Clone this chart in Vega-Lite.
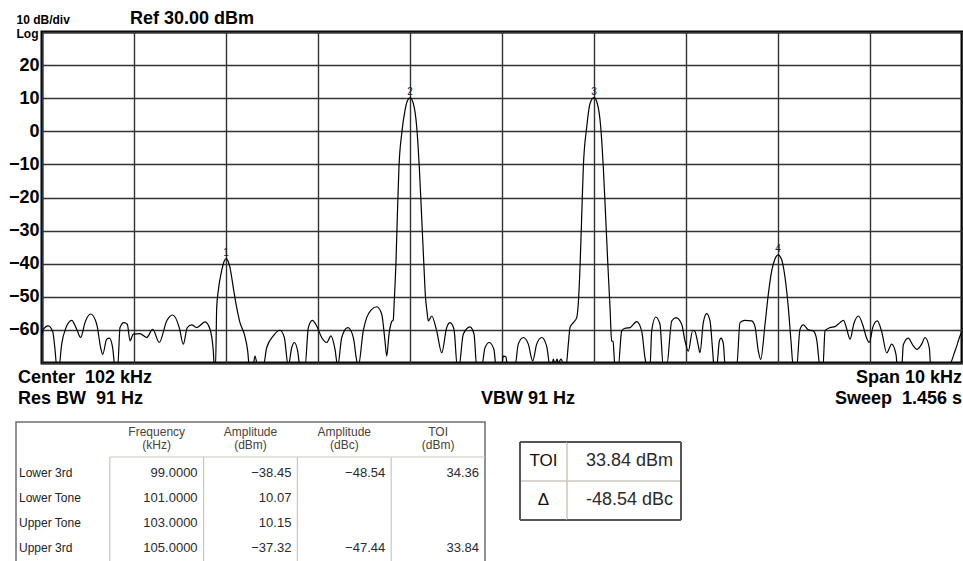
{
  "$schema": "https://vega.github.io/schema/vega-lite/v6.json",
  "autosize": {"type": "none"},
  "padding": {"left": 16, "top": 32, "right": 947, "bottom": 529},
  "background": "white",
  "config": {"font": "Liberation Sans", "view": {"stroke": null}},
  "datasets": {
    "trace": [
      {"freq": 97.000, "dBm": -61.5}, {"freq": 97.011, "dBm": -60.0}, {"freq": 97.068, "dBm": -58.8}, {"freq": 97.116, "dBm": -60.5},
      {"freq": 97.141, "dBm": -65.8}, {"freq": 97.160, "dBm": -71}, {"freq": 97.185, "dBm": -71}, {"freq": 97.214, "dBm": -64.3},
      {"freq": 97.261, "dBm": -59.3}, {"freq": 97.323, "dBm": -57.1}, {"freq": 97.377, "dBm": -59.8}, {"freq": 97.421, "dBm": -62.3},
      {"freq": 97.467, "dBm": -57.8}, {"freq": 97.529, "dBm": -55.2}, {"freq": 97.595, "dBm": -58.3}, {"freq": 97.638, "dBm": -65.4},
      {"freq": 97.660, "dBm": -67.4}, {"freq": 97.703, "dBm": -62.8}, {"freq": 97.732, "dBm": -62.5}, {"freq": 97.768, "dBm": -65.4},
      {"freq": 97.793, "dBm": -71}, {"freq": 97.823, "dBm": -71}, {"freq": 97.848, "dBm": -59.3}, {"freq": 97.891, "dBm": -57.8},
      {"freq": 97.927, "dBm": -58.3}, {"freq": 97.957, "dBm": -63.3}, {"freq": 97.992, "dBm": -61.3}, {"freq": 98.065, "dBm": -61.1},
      {"freq": 98.138, "dBm": -62.3}, {"freq": 98.203, "dBm": -59.8}, {"freq": 98.275, "dBm": -63.8}, {"freq": 98.355, "dBm": -57.3},
      {"freq": 98.421, "dBm": -55.5}, {"freq": 98.492, "dBm": -59.3}, {"freq": 98.536, "dBm": -64.3}, {"freq": 98.579, "dBm": -59.3},
      {"freq": 98.627, "dBm": -58.5}, {"freq": 98.682, "dBm": -59.3}, {"freq": 98.772, "dBm": -57.6}, {"freq": 98.826, "dBm": -59.8},
      {"freq": 98.862, "dBm": -66.4}, {"freq": 98.873, "dBm": -71}, {"freq": 98.886, "dBm": -71}, {"freq": 98.899, "dBm": -53.2},
      {"freq": 98.916, "dBm": -48.2}, {"freq": 98.953, "dBm": -42.1}, {"freq": 98.978, "dBm": -39.4}, {"freq": 99.000, "dBm": -38.45},
      {"freq": 99.022, "dBm": -39.2}, {"freq": 99.043, "dBm": -41.1}, {"freq": 99.079, "dBm": -47.2}, {"freq": 99.116, "dBm": -53.2},
      {"freq": 99.152, "dBm": -57.8}, {"freq": 99.199, "dBm": -61.3}, {"freq": 99.236, "dBm": -66.4}, {"freq": 99.253, "dBm": -71},
      {"freq": 99.293, "dBm": -71}, {"freq": 99.315, "dBm": -67.9}, {"freq": 99.345, "dBm": -71}, {"freq": 99.405, "dBm": -71},
      {"freq": 99.442, "dBm": -65.4}, {"freq": 99.514, "dBm": -61.8}, {"freq": 99.587, "dBm": -60.1}, {"freq": 99.634, "dBm": -62.3},
      {"freq": 99.677, "dBm": -71}, {"freq": 99.714, "dBm": -65.4}, {"freq": 99.742, "dBm": -63.8}, {"freq": 99.779, "dBm": -66.4},
      {"freq": 99.804, "dBm": -71}, {"freq": 99.859, "dBm": -71}, {"freq": 99.895, "dBm": -59.3}, {"freq": 99.938, "dBm": -57.1},
      {"freq": 99.986, "dBm": -58.8}, {"freq": 100.040, "dBm": -62.3}, {"freq": 100.095, "dBm": -63.8}, {"freq": 100.141, "dBm": -61.8},
      {"freq": 100.185, "dBm": -65.9}, {"freq": 100.214, "dBm": -71}, {"freq": 100.258, "dBm": -62.3}, {"freq": 100.323, "dBm": -59.3},
      {"freq": 100.348, "dBm": -59.8}, {"freq": 100.391, "dBm": -63.3}, {"freq": 100.413, "dBm": -68}, {"freq": 100.438, "dBm": -71},
      {"freq": 100.492, "dBm": -60.3}, {"freq": 100.529, "dBm": -56.3}, {"freq": 100.576, "dBm": -54}, {"freq": 100.638, "dBm": -53},
      {"freq": 100.692, "dBm": -55.2}, {"freq": 100.728, "dBm": -63.3}, {"freq": 100.747, "dBm": -67.9}, {"freq": 100.772, "dBm": -61.3},
      {"freq": 100.801, "dBm": -57.5}, {"freq": 100.818, "dBm": -57}, {"freq": 100.829, "dBm": -51.2}, {"freq": 100.848, "dBm": -39.1},
      {"freq": 100.862, "dBm": -26}, {"freq": 100.880, "dBm": -10.8}, {"freq": 100.910, "dBm": -0.7}, {"freq": 100.946, "dBm": 6.4},
      {"freq": 100.973, "dBm": 9.3}, {"freq": 101.000, "dBm": 10.07}, {"freq": 101.036, "dBm": 8.4}, {"freq": 101.073, "dBm": 1.3},
      {"freq": 101.101, "dBm": -10.8}, {"freq": 101.127, "dBm": -26}, {"freq": 101.152, "dBm": -41.1}, {"freq": 101.168, "dBm": -50},
      {"freq": 101.185, "dBm": -54.5}, {"freq": 101.199, "dBm": -57.3}, {"freq": 101.236, "dBm": -55.8}, {"freq": 101.290, "dBm": -60.3},
      {"freq": 101.345, "dBm": -66.9}, {"freq": 101.399, "dBm": -59.3}, {"freq": 101.435, "dBm": -57.8}, {"freq": 101.478, "dBm": -59.8},
      {"freq": 101.514, "dBm": -71}, {"freq": 101.533, "dBm": -71}, {"freq": 101.579, "dBm": -61.3}, {"freq": 101.652, "dBm": -59.1},
      {"freq": 101.696, "dBm": -61.3}, {"freq": 101.725, "dBm": -71}, {"freq": 101.779, "dBm": -71}, {"freq": 101.815, "dBm": -65.4},
      {"freq": 101.862, "dBm": -63.8}, {"freq": 101.913, "dBm": -66}, {"freq": 101.935, "dBm": -71}, {"freq": 101.997, "dBm": -71},
      {"freq": 102.014, "dBm": -67.9}, {"freq": 102.043, "dBm": -68.2}, {"freq": 102.058, "dBm": -71}, {"freq": 102.141, "dBm": -71},
      {"freq": 102.177, "dBm": -64.3}, {"freq": 102.232, "dBm": -62.3}, {"freq": 102.286, "dBm": -64.3}, {"freq": 102.334, "dBm": -69.4},
      {"freq": 102.377, "dBm": -64.3}, {"freq": 102.432, "dBm": -62.3}, {"freq": 102.486, "dBm": -65}, {"freq": 102.522, "dBm": -71},
      {"freq": 102.543, "dBm": -71}, {"freq": 102.558, "dBm": -68.8}, {"freq": 102.576, "dBm": -70.5}, {"freq": 102.598, "dBm": -68.8},
      {"freq": 102.612, "dBm": -70}, {"freq": 102.641, "dBm": -68.8}, {"freq": 102.677, "dBm": -71}, {"freq": 102.696, "dBm": -71},
      {"freq": 102.721, "dBm": -64.3}, {"freq": 102.739, "dBm": -59.3}, {"freq": 102.775, "dBm": -57.8}, {"freq": 102.812, "dBm": -56.3},
      {"freq": 102.829, "dBm": -52.2}, {"freq": 102.848, "dBm": -41.1}, {"freq": 102.866, "dBm": -26}, {"freq": 102.884, "dBm": -10.8},
      {"freq": 102.921, "dBm": 1.3}, {"freq": 102.957, "dBm": 8.4}, {"freq": 103.000, "dBm": 10.15}, {"freq": 103.036, "dBm": 8.4},
      {"freq": 103.073, "dBm": 1.3}, {"freq": 103.101, "dBm": -10.8}, {"freq": 103.127, "dBm": -26}, {"freq": 103.152, "dBm": -41.1},
      {"freq": 103.174, "dBm": -53.2}, {"freq": 103.192, "dBm": -63.3}, {"freq": 103.207, "dBm": -63.5}, {"freq": 103.228, "dBm": -71},
      {"freq": 103.264, "dBm": -71}, {"freq": 103.301, "dBm": -60.3}, {"freq": 103.337, "dBm": -59.5}, {"freq": 103.391, "dBm": -59.3},
      {"freq": 103.464, "dBm": -57.5}, {"freq": 103.518, "dBm": -60.3}, {"freq": 103.554, "dBm": -68.4}, {"freq": 103.573, "dBm": -71},
      {"freq": 103.609, "dBm": -71}, {"freq": 103.627, "dBm": -60.3}, {"freq": 103.671, "dBm": -56.1}, {"freq": 103.717, "dBm": -58.3},
      {"freq": 103.753, "dBm": -71}, {"freq": 103.790, "dBm": -71}, {"freq": 103.845, "dBm": -57.3}, {"freq": 103.891, "dBm": -56.3},
      {"freq": 103.953, "dBm": -58.3}, {"freq": 103.989, "dBm": -63.3}, {"freq": 104.025, "dBm": -66.4}, {"freq": 104.073, "dBm": -60.1},
      {"freq": 104.098, "dBm": -60.5}, {"freq": 104.134, "dBm": -64.8}, {"freq": 104.152, "dBm": -66.9}, {"freq": 104.188, "dBm": -57.8},
      {"freq": 104.225, "dBm": -55.1}, {"freq": 104.261, "dBm": -57.3}, {"freq": 104.290, "dBm": -66.4}, {"freq": 104.304, "dBm": -71},
      {"freq": 104.334, "dBm": -71}, {"freq": 104.362, "dBm": -63.5}, {"freq": 104.380, "dBm": -62.5}, {"freq": 104.405, "dBm": -64},
      {"freq": 104.427, "dBm": -71}, {"freq": 104.551, "dBm": -71}, {"freq": 104.587, "dBm": -57.8}, {"freq": 104.641, "dBm": -57.1},
      {"freq": 104.714, "dBm": -57.3}, {"freq": 104.750, "dBm": -59}, {"freq": 104.786, "dBm": -66.4}, {"freq": 104.812, "dBm": -68.9},
      {"freq": 104.859, "dBm": -58.3}, {"freq": 104.895, "dBm": -49.2}, {"freq": 104.932, "dBm": -42.1}, {"freq": 104.967, "dBm": -38.6},
      {"freq": 105.000, "dBm": -37.32}, {"freq": 105.040, "dBm": -38.8}, {"freq": 105.076, "dBm": -44.1}, {"freq": 105.112, "dBm": -53.2},
      {"freq": 105.141, "dBm": -63.3}, {"freq": 105.166, "dBm": -71}, {"freq": 105.203, "dBm": -71}, {"freq": 105.239, "dBm": -59.8},
      {"freq": 105.275, "dBm": -58.5}, {"freq": 105.329, "dBm": -60}, {"freq": 105.384, "dBm": -60.3}, {"freq": 105.421, "dBm": -63},
      {"freq": 105.457, "dBm": -71}, {"freq": 105.489, "dBm": -71}, {"freq": 105.511, "dBm": -60.3}, {"freq": 105.565, "dBm": -59.3},
      {"freq": 105.620, "dBm": -59}, {"freq": 105.674, "dBm": -57.8}, {"freq": 105.712, "dBm": -57.1}, {"freq": 105.750, "dBm": -60},
      {"freq": 105.783, "dBm": -62.8}, {"freq": 105.826, "dBm": -58}, {"freq": 105.873, "dBm": -55.8}, {"freq": 105.927, "dBm": -59},
      {"freq": 105.957, "dBm": -62}, {"freq": 105.992, "dBm": -63.8}, {"freq": 106.033, "dBm": -59}, {"freq": 106.079, "dBm": -57.3},
      {"freq": 106.127, "dBm": -60.5}, {"freq": 106.182, "dBm": -66.9}, {"freq": 106.236, "dBm": -64.3}, {"freq": 106.283, "dBm": -67.5},
      {"freq": 106.297, "dBm": -71}, {"freq": 106.345, "dBm": -71}, {"freq": 106.362, "dBm": -64.5}, {"freq": 106.416, "dBm": -62.5},
      {"freq": 106.464, "dBm": -64.5}, {"freq": 106.508, "dBm": -65.9}, {"freq": 106.562, "dBm": -64.3}, {"freq": 106.598, "dBm": -62.3},
      {"freq": 106.645, "dBm": -65.5}, {"freq": 106.660, "dBm": -71}, {"freq": 106.851, "dBm": -71}, {"freq": 106.924, "dBm": -66.4},
      {"freq": 106.986, "dBm": -61.3}, {"freq": 107.000, "dBm": -60.5}
    ],
    "markers": [
      {"marker": "1", "freq": 99, "dBm": -38.45},
      {"marker": "2", "freq": 101, "dBm": 10.07},
      {"marker": "3", "freq": 103, "dBm": 10.15},
      {"marker": "4", "freq": 105, "dBm": -37.32}
    ],
    "info": [
      {"freq": 97, "text": "Center\u00a0 102 kHz\nRes BW\u00a0 91 Hz"},
      {"freq": 102, "text": "VBW 91 Hz"},
      {"freq": 107, "text": "Span 10 kHz\nSweep\u00a0 1.456 s"}
    ],
    "toiHeaders": [
      {"column": "freq", "header": "Frequency\n(kHz)"},
      {"column": "ampdBm", "header": "Amplitude\n(dBm)"},
      {"column": "ampdBc", "header": "Amplitude\n(dBc)"},
      {"column": "toi", "header": "TOI\n(dBm)"}
    ],
    "toiTable": [
      {"row": "Lower 3rd", "column": "freq", "value": 99.0},
      {"row": "Lower 3rd", "column": "ampdBm", "value": -38.45},
      {"row": "Lower 3rd", "column": "ampdBc", "value": -48.54},
      {"row": "Lower 3rd", "column": "toi", "value": 34.36},
      {"row": "Lower Tone", "column": "freq", "value": 101.0},
      {"row": "Lower Tone", "column": "ampdBm", "value": 10.07},
      {"row": "Upper Tone", "column": "freq", "value": 103.0},
      {"row": "Upper Tone", "column": "ampdBm", "value": 10.15},
      {"row": "Upper 3rd", "column": "freq", "value": 105.0},
      {"row": "Upper 3rd", "column": "ampdBm", "value": -37.32},
      {"row": "Upper 3rd", "column": "ampdBc", "value": -47.44},
      {"row": "Upper 3rd", "column": "toi", "value": 33.84}
    ],
    "summary": [
      {"key": "TOI", "value": "33.84 dBm"},
      {"key": "Δ", "value": "-48.54 dBc"}
    ]
  },
  "spacing": 11,
  "vconcat": [
    {
      "bounds": "flush",
      "spacing": 0,
      "hconcat": [
        {"width": 26, "height": 331, "data": {"values": [{}]}, "mark": {"type": "text", "text": ""}, "encoding": {}},
        {
          "width": 920,
          "height": 331,
          "view": {"stroke": "#000", "strokeWidth": 3},
          "title": {"text": "Ref 30.00 dBm", "anchor": "start", "frame": "group", "dx": 88, "dy": 20, "offset": 5, "fontSize": 18, "fontWeight": "bold", "color": "#000"},
          "layer": [
            {
              "data": {"name": "trace"},
              "mark": {"type": "line", "interpolate": "monotone", "clip": true, "color": "#000", "strokeWidth": 1.2},
              "encoding": {
                "x": {"field": "freq", "type": "quantitative",
                  "scale": {"domain": [97, 107], "nice": false, "zero": false},
                  "axis": {"values": [97, 98, 99, 100, 101, 102, 103, 104, 105, 106, 107], "grid": true, "gridColor": "#333", "gridWidth": 1.4, "gridOpacity": 1, "labels": false, "ticks": false, "domain": false, "title": null}},
                "y": {"field": "dBm", "type": "quantitative",
                  "scale": {"domain": [-70, 30], "nice": false, "zero": false},
                  "axis": {"values": [-70, -60, -50, -40, -30, -20, -10, 0, 10, 20, 30], "tickCount": 11, "grid": true, "gridColor": "#333", "gridWidth": 1.4, "gridOpacity": 1,
                    "ticks": false, "tickSize": 0, "domain": false, "labelPadding": 3, "labelFontSize": 18, "labelFontWeight": "bold", "labelColor": "#000",
                    "labelOverlap": false, "labelBound": false,
                    "labelExpr": "datum.value > 20 || datum.value < -60 ? '' : datum.label",
                    "title": ["10 dB/div", "Log"], "titleAngle": 0, "titleAlign": "left", "titleBaseline": "top", "titleX": -26, "titleY": -18,
                    "titleFontSize": 12, "titleFontWeight": "bold", "titleLineHeight": 14, "titleColor": "#000"}}
              }
            },
            {
              "data": {"name": "markers"},
              "mark": {"type": "text", "baseline": "bottom", "dy": -1, "fontSize": 10, "color": "#222"},
              "encoding": {
                "x": {"field": "freq", "type": "quantitative"},
                "y": {"field": "dBm", "type": "quantitative"},
                "text": {"field": "marker"}
              }
            },
            {
              "data": {"name": "info"},
              "transform": [{"filter": "datum.freq == 97"}],
              "mark": {"type": "text", "align": "left", "baseline": "top", "lineBreak": "\n", "lineHeight": 21, "fontSize": 18, "fontWeight": "bold", "color": "#000", "dx": -24, "dy": 6},
              "encoding": {
                "x": {"field": "freq", "type": "quantitative"},
                "y": {"datum": -70, "type": "quantitative"},
                "text": {"field": "text"}
              }
            },
            {
              "data": {"name": "info"},
              "transform": [{"filter": "datum.freq == 102"}],
              "mark": {"type": "text", "align": "center", "baseline": "top", "fontSize": 18, "fontWeight": "bold", "color": "#000", "dx": 26, "dy": 27},
              "encoding": {
                "x": {"field": "freq", "type": "quantitative"},
                "y": {"datum": -70, "type": "quantitative"},
                "text": {"field": "text"}
              }
            },
            {
              "data": {"name": "info"},
              "transform": [{"filter": "datum.freq == 107"}],
              "mark": {"type": "text", "align": "right", "baseline": "top", "lineBreak": "\n", "lineHeight": 21, "fontSize": 18, "fontWeight": "bold", "color": "#000", "dx": 0, "dy": 6},
              "encoding": {
                "x": {"field": "freq", "type": "quantitative"},
                "y": {"datum": -70, "type": "quantitative"},
                "text": {"field": "text"}
              }
            }
          ]
        }
      ]
    },
    {
      "spacing": 32,
      "hconcat": [
        {
          "width": 469,
          "height": 145,
          "view": {"stroke": "#6e6e6e", "strokeWidth": 1.5},
          "encoding": {
            "x": {"field": "column", "type": "nominal", "axis": null,
              "scale": {"type": "band", "domain": ["name", "freq", "ampdBm", "ampdBc", "toi"], "paddingInner": 0, "paddingOuter": 0}},
            "y": {"field": "row", "type": "nominal", "axis": null,
              "scale": {"type": "band", "domain": ["header", "Lower 3rd", "Lower Tone", "Upper Tone", "Upper 3rd"], "paddingInner": 0, "paddingOuter": 0.4}}
          },
          "layer": [
            {
              "data": {"name": "toiHeaders"},
              "mark": {"type": "rule", "color": "#cbc7bb", "strokeWidth": 1.2},
              "encoding": {
                "x": {"field": "column", "type": "nominal", "bandPosition": 0},
                "y": {"datum": "Lower 3rd", "type": "nominal", "bandPosition": 0},
                "y2": {"value": "height"}
              }
            },
            {
              "data": {"values": [{}]},
              "mark": {"type": "rule", "color": "#cbc7bb", "strokeWidth": 1.2},
              "encoding": {
                "x": {"datum": "freq", "type": "nominal", "bandPosition": 0},
                "x2": {"value": "width"},
                "y": {"datum": "Lower 3rd", "type": "nominal", "bandPosition": 0}
              }
            },
            {
              "data": {"name": "toiHeaders"},
              "mark": {"type": "text", "align": "center", "baseline": "middle", "lineBreak": "\n", "lineHeight": 13, "fontSize": 12, "color": "#4a4238", "dy": -13},
              "encoding": {
                "x": {"field": "column", "type": "nominal", "bandPosition": 0.5},
                "y": {"datum": "header", "type": "nominal", "bandPosition": 0.5},
                "text": {"field": "header"}
              }
            },
            {
              "data": {"name": "toiTable"},
              "transform": [{"filter": "datum.column == 'freq'"}],
              "mark": {"type": "text", "align": "left", "baseline": "middle", "fontSize": 12, "color": "#222", "dx": 3, "dy": 3},
              "encoding": {
                "x": {"datum": "name", "type": "nominal", "bandPosition": 0},
                "y": {"field": "row", "type": "nominal", "bandPosition": 0.5},
                "text": {"field": "row"}
              }
            },
            {
              "data": {"name": "toiTable"},
              "transform": [{"filter": "datum.column == 'freq'"}],
              "mark": {"type": "text", "align": "right", "baseline": "middle", "fontSize": 13, "color": "#2a2a2a", "dx": -6, "dy": 3},
              "encoding": {
                "x": {"field": "column", "type": "nominal", "bandPosition": 1},
                "y": {"field": "row", "type": "nominal", "bandPosition": 0.5},
                "text": {"field": "value", "type": "quantitative", "format": ".4f"}
              }
            },
            {
              "data": {"name": "toiTable"},
              "transform": [{"filter": "datum.column != 'freq'"}],
              "mark": {"type": "text", "align": "right", "baseline": "middle", "fontSize": 13, "color": "#2a2a2a", "dx": -6, "dy": 3},
              "encoding": {
                "x": {"field": "column", "type": "nominal", "bandPosition": 1},
                "y": {"field": "row", "type": "nominal", "bandPosition": 0.5},
                "text": {"field": "value", "type": "quantitative", "format": ".2f"}
              }
            }
          ]
        },
        {
          "bounds": "flush",
          "spacing": 0,
          "hconcat": [
            {
              "width": 47,
              "height": 98,
              "encoding": {
                "y": {"field": "key", "type": "nominal", "axis": null,
                  "scale": {"type": "band", "domain": ["TOI", "Δ"], "paddingInner": 0, "paddingOuter": 0.2564, "align": 1}}
              },
              "layer": [
                {
                  "data": {"values": [{}]},
                  "mark": {"type": "rule", "color": "#cbc7bb", "strokeWidth": 1.5},
                  "encoding": {"y": {"datum": "Δ", "type": "nominal", "bandPosition": 0}}
                },
                {
                  "data": {"name": "summary"},
                  "mark": {"type": "text", "align": "center", "baseline": "middle", "fontSize": 17, "color": "#111"},
                  "encoding": {"y": {"field": "key", "type": "nominal", "bandPosition": 0.5}, "text": {"field": "key"}}
                },
                {
                  "data": {"values": [{}]},
                  "mark": {"type": "rule", "color": "#555", "strokeWidth": 2},
                  "encoding": {"y": {"datum": "TOI", "type": "nominal", "bandPosition": 0}}
                },
                {
                  "data": {"values": [{}]},
                  "mark": {"type": "rule", "color": "#555", "strokeWidth": 2},
                  "encoding": {"y": {"value": "height"}}
                },
                {
                  "data": {"values": [{}]},
                  "mark": {"type": "rule", "color": "#555", "strokeWidth": 2},
                  "encoding": {"x": {"value": 0}, "y": {"datum": "TOI", "type": "nominal", "bandPosition": 0}, "y2": {"value": "height"}}
                }
              ]
            },
            {
              "width": 114,
              "height": 98,
              "encoding": {
                "y": {"field": "key", "type": "nominal", "axis": null,
                  "scale": {"type": "band", "domain": ["TOI", "Δ"], "paddingInner": 0, "paddingOuter": 0.2564, "align": 1}}
              },
              "layer": [
                {
                  "data": {"values": [{}]},
                  "mark": {"type": "rule", "color": "#cbc7bb", "strokeWidth": 1.5},
                  "encoding": {"y": {"datum": "Δ", "type": "nominal", "bandPosition": 0}}
                },
                {
                  "data": {"values": [{}]},
                  "mark": {"type": "rule", "color": "#cbc7bb", "strokeWidth": 1.5},
                  "encoding": {"x": {"value": 0}, "y": {"datum": "TOI", "type": "nominal", "bandPosition": 0}, "y2": {"value": "height"}}
                },
                {
                  "data": {"name": "summary"},
                  "mark": {"type": "text", "align": "right", "baseline": "middle", "fontSize": 18, "color": "#2b2b2b", "dx": -8},
                  "encoding": {"x": {"value": "width"}, "y": {"field": "key", "type": "nominal", "bandPosition": 0.5}, "text": {"field": "value"}}
                },
                {
                  "data": {"values": [{}]},
                  "mark": {"type": "rule", "color": "#555", "strokeWidth": 2},
                  "encoding": {"y": {"datum": "TOI", "type": "nominal", "bandPosition": 0}}
                },
                {
                  "data": {"values": [{}]},
                  "mark": {"type": "rule", "color": "#555", "strokeWidth": 2},
                  "encoding": {"y": {"value": "height"}}
                },
                {
                  "data": {"values": [{}]},
                  "mark": {"type": "rule", "color": "#555", "strokeWidth": 2},
                  "encoding": {"x": {"value": "width"}, "y": {"datum": "TOI", "type": "nominal", "bandPosition": 0}, "y2": {"value": "height"}}
                }
              ]
            }
          ]
        }
      ]
    }
  ]
}
